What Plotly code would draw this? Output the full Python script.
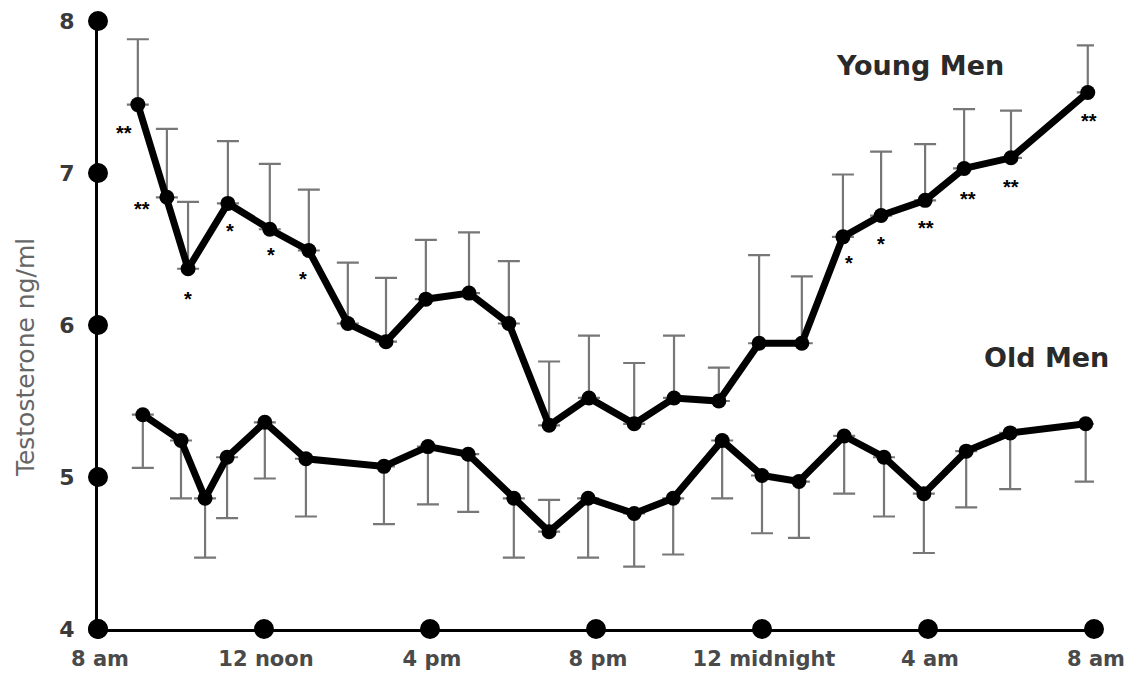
import plotly.graph_objects as go

# ---- data (hours after 8 am) ----
young_hours = [0.96, 1.66, 2.17, 3.13, 4.14, 5.08, 6.02, 6.94, 7.90, 8.94, 9.90, 10.87,
               11.83, 12.92, 13.88, 14.96, 15.93, 16.96, 17.95, 18.87, 19.93, 20.87, 22.0, 23.85]
young_mean = [7.45, 6.84, 6.37, 6.80, 6.63, 6.49, 6.01, 5.89, 6.17, 6.21, 6.01, 5.34,
              5.52, 5.35, 5.52, 5.50, 5.88, 5.88, 6.58, 6.72, 6.82, 7.03, 7.10, 7.53]
young_err = [0.43, 0.45, 0.44, 0.41, 0.43, 0.40, 0.40, 0.42, 0.39, 0.40, 0.41, 0.42,
             0.41, 0.40, 0.41, 0.22, 0.58, 0.44, 0.41, 0.42, 0.37, 0.39, 0.31, 0.31]

old_hours = [1.08, 2.0, 2.58, 3.11, 4.02, 5.01, 6.89, 7.95, 8.92, 10.02, 10.87, 11.81,
             12.92, 13.86, 15.04, 16.0, 16.89, 17.98, 18.94, 19.9, 20.92, 21.98, 23.8]
old_mean = [5.41, 5.24, 4.86, 5.13, 5.36, 5.12, 5.07, 5.20, 5.15, 4.86, 4.64, 4.86,
            4.76, 4.86, 5.24, 5.01, 4.97, 5.27, 5.13, 4.89, 5.17, 5.29, 5.35]
old_err_down = [0.35, 0.38, 0.39, 0.40, 0.37, 0.38, 0.38, 0.38, 0.38, 0.39, 0.0, 0.39,
                0.35, 0.37, 0.38, 0.38, 0.37, 0.38, 0.39, 0.39, 0.37, 0.37, 0.38]
old_err_up = [0, 0, 0, 0, 0, 0, 0, 0, 0, 0, 0.21, 0,
              0, 0, 0, 0, 0, 0, 0, 0, 0, 0, 0]

sig_hours = [0.63, 1.06, 2.17, 3.18, 4.17, 4.94, 18.1, 18.87, 19.95, 20.96, 22.0, 23.88]
sig_vals = [7.30, 6.80, 6.21, 6.66, 6.50, 6.34, 6.45, 6.57, 6.68, 6.87, 6.95, 7.38]
sig_labels = ["**", "**", "*", "*", "*", "*", "*", "*", "**", "**", "**", "**"]

tick_hours = [0, 4, 8, 12, 16, 20, 24]
tick_labels = ["8 am", "12 noon", "4 pm", "8 pm", "12 midnight", "4 am", "8 am"]
y_ticks = [4, 5, 6, 7, 8]

FONT = "DejaVu Sans, Verdana, sans-serif"
ASTF = "Liberation Sans, Arial, sans-serif"
fig = go.Figure()

fig.add_trace(go.Scatter(
    x=young_hours, y=young_mean, mode="lines+markers",
    line=dict(color="black", width=7),
    marker=dict(color="black", size=15),
    error_y=dict(type="data", symmetric=False, array=young_err,
                 arrayminus=[0] * len(young_err), color="#777777",
                 thickness=2.2, width=11),
    showlegend=False, cliponaxis=False))

fig.add_trace(go.Scatter(
    x=old_hours, y=old_mean, mode="lines+markers",
    line=dict(color="black", width=7),
    marker=dict(color="black", size=15),
    error_y=dict(type="data", symmetric=False, array=old_err_up,
                 arrayminus=old_err_down, color="#777777",
                 thickness=2.2, width=11),
    showlegend=False, cliponaxis=False))

# axis dots
fig.add_trace(go.Scatter(
    x=tick_hours, y=[4] * len(tick_hours), mode="markers",
    marker=dict(color="black", size=20), showlegend=False,
    cliponaxis=False, hoverinfo="skip"))
fig.add_trace(go.Scatter(
    x=[0] * len(y_ticks), y=y_ticks, mode="markers",
    marker=dict(color="black", size=20), showlegend=False,
    cliponaxis=False, hoverinfo="skip"))

for h, v, lab in zip(sig_hours, sig_vals, sig_labels):
    fig.add_annotation(x=h, y=v, text="<b>" + lab + "</b>", showarrow=False,
                       xanchor="center", yanchor="middle",
                       font=dict(family=ASTF, size=20, color="black"), yshift=-6)

fig.add_annotation(x=0.825, y=0.926, xref="paper", yref="paper",
                   text="<b>Young Men</b>", showarrow=False,
                   xanchor="center", yanchor="middle",
                   font=dict(family=FONT, size=27, color="#2a2a2a"))
fig.add_annotation(x=0.952, y=0.446, xref="paper", yref="paper",
                   text="<b>Old Men</b>", showarrow=False,
                   xanchor="center", yanchor="middle",
                   font=dict(family=FONT, size=27, color="#2a2a2a"))
fig.add_annotation(x=-0.072, y=0.446, xref="paper", yref="paper",
                   text="Testosterone ng/ml", showarrow=False, textangle=-90,
                   xanchor="center", yanchor="middle",
                   font=dict(family=FONT, size=25, color="#666"))

fig.update_layout(
    width=1125, height=666,
    margin=dict(l=90, r=39, t=13, b=45, autoexpand=False),
    paper_bgcolor="white", plot_bgcolor="white",
    xaxis=dict(range=[0, 24], tickvals=tick_hours, ticktext=tick_labels,
               showgrid=False, zeroline=False, showline=True, automargin=False,
               linecolor="black", linewidth=3, ticks="",
               ticklabelstandoff=9, ticklabelshift=2,
               tickfont=dict(family=FONT, size=21, color="#4a4a4a", weight="bold")),
    yaxis=dict(range=[4, 8], tickvals=y_ticks, showgrid=False, zeroline=False,
               showline=True, linecolor="black", linewidth=3, ticks="",
               ticklabelstandoff=16, automargin=False,
               tickfont=dict(family=FONT, size=22, color="#3a3a3a", weight="bold")),
)

fig.write_html("out.html")
